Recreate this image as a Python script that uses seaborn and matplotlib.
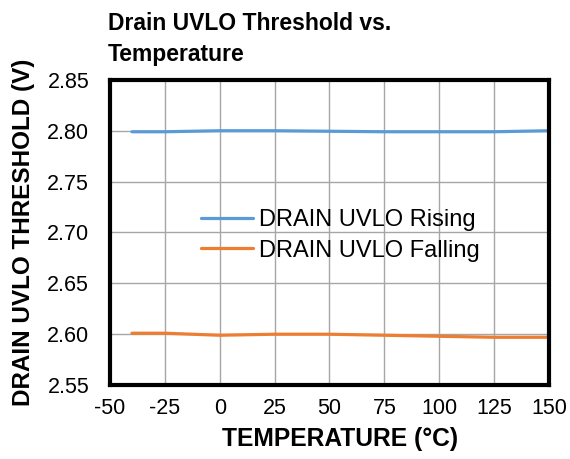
import matplotlib.pyplot as plt
import pandas as pd
import seaborn as sns

# Data
temperature = [-40, -25, 0, 25, 50, 75, 100, 125, 150]
uvlo_rising = [2.799, 2.799, 2.800, 2.800, 2.7995, 2.799, 2.799, 2.799, 2.800]
uvlo_falling = [2.601, 2.601, 2.599, 2.600, 2.600, 2.599, 2.598, 2.597, 2.597]
series_names = ["DRAIN UVLO Rising", "DRAIN UVLO Falling"]
y_ticks = [2.55, 2.60, 2.65, 2.70, 2.75, 2.80, 2.85]
x_ticks = [-50, -25, 0, 25, 50, 75, 100, 125, 150]

df = pd.DataFrame({
    "temp": temperature * 2,
    "value": uvlo_rising + uvlo_falling,
    "series": [series_names[0]] * len(temperature) + [series_names[1]] * len(temperature),
})

sns.set_style("white")
plt.rcParams["font.family"] = ["Liberation Sans", "DejaVu Sans"]
plt.rcParams["axes.unicode_minus"] = False
plt.rcParams["text.color"] = "black"

fig, ax = plt.subplots(figsize=(5.7, 4.59), dpi=100)
fig.subplots_adjust(left=0.193, right=0.963, top=0.826, bottom=0.161)

sns.lineplot(data=df, x="temp", y="value", hue="series",
             palette=["#5B9BD5", "#ED7D31"], linewidth=2.3, ax=ax)

ax.set_xlim(-50, 150)
ax.set_ylim(2.55, 2.85)
ax.set_xticks(x_ticks)
ax.set_yticks(y_ticks)
ax.set_yticklabels([f"{v:.2f}" for v in y_ticks])
ax.grid(True, color="#A6A6A6", linewidth=1.0)
ax.set_axisbelow(True)
for s in ax.spines.values():
    s.set_color("black")
    s.set_linewidth(3)
ax.tick_params(labelsize=15.5, length=0, colors="black")
ax.tick_params(axis="x", pad=9)
ax.tick_params(axis="y", pad=15)

ax.set_xlabel("TEMPERATURE (°C)", fontsize=17.7, fontweight="bold", color="black", labelpad=6)
ax.xaxis.label.set_x(0.525)
ax.set_ylabel("DRAIN UVLO THRESHOLD (V)", fontsize=17.5, fontweight="bold", color="black", labelpad=9)
fig.text(108 / 570, 1 - 12 / 459, "Drain UVLO Threshold vs.\nTemperature", ha="left", va="top",
         fontsize=16.5, fontweight="bold", color="black", linespacing=1.45)

ax.legend(title=None, frameon=False, fontsize=17, loc="center",
          bbox_to_anchor=(0.525, 0.49), handlelength=2.2, handletextpad=0.25,
          labelspacing=0.35)

fig.savefig("out.png", dpi=100)
